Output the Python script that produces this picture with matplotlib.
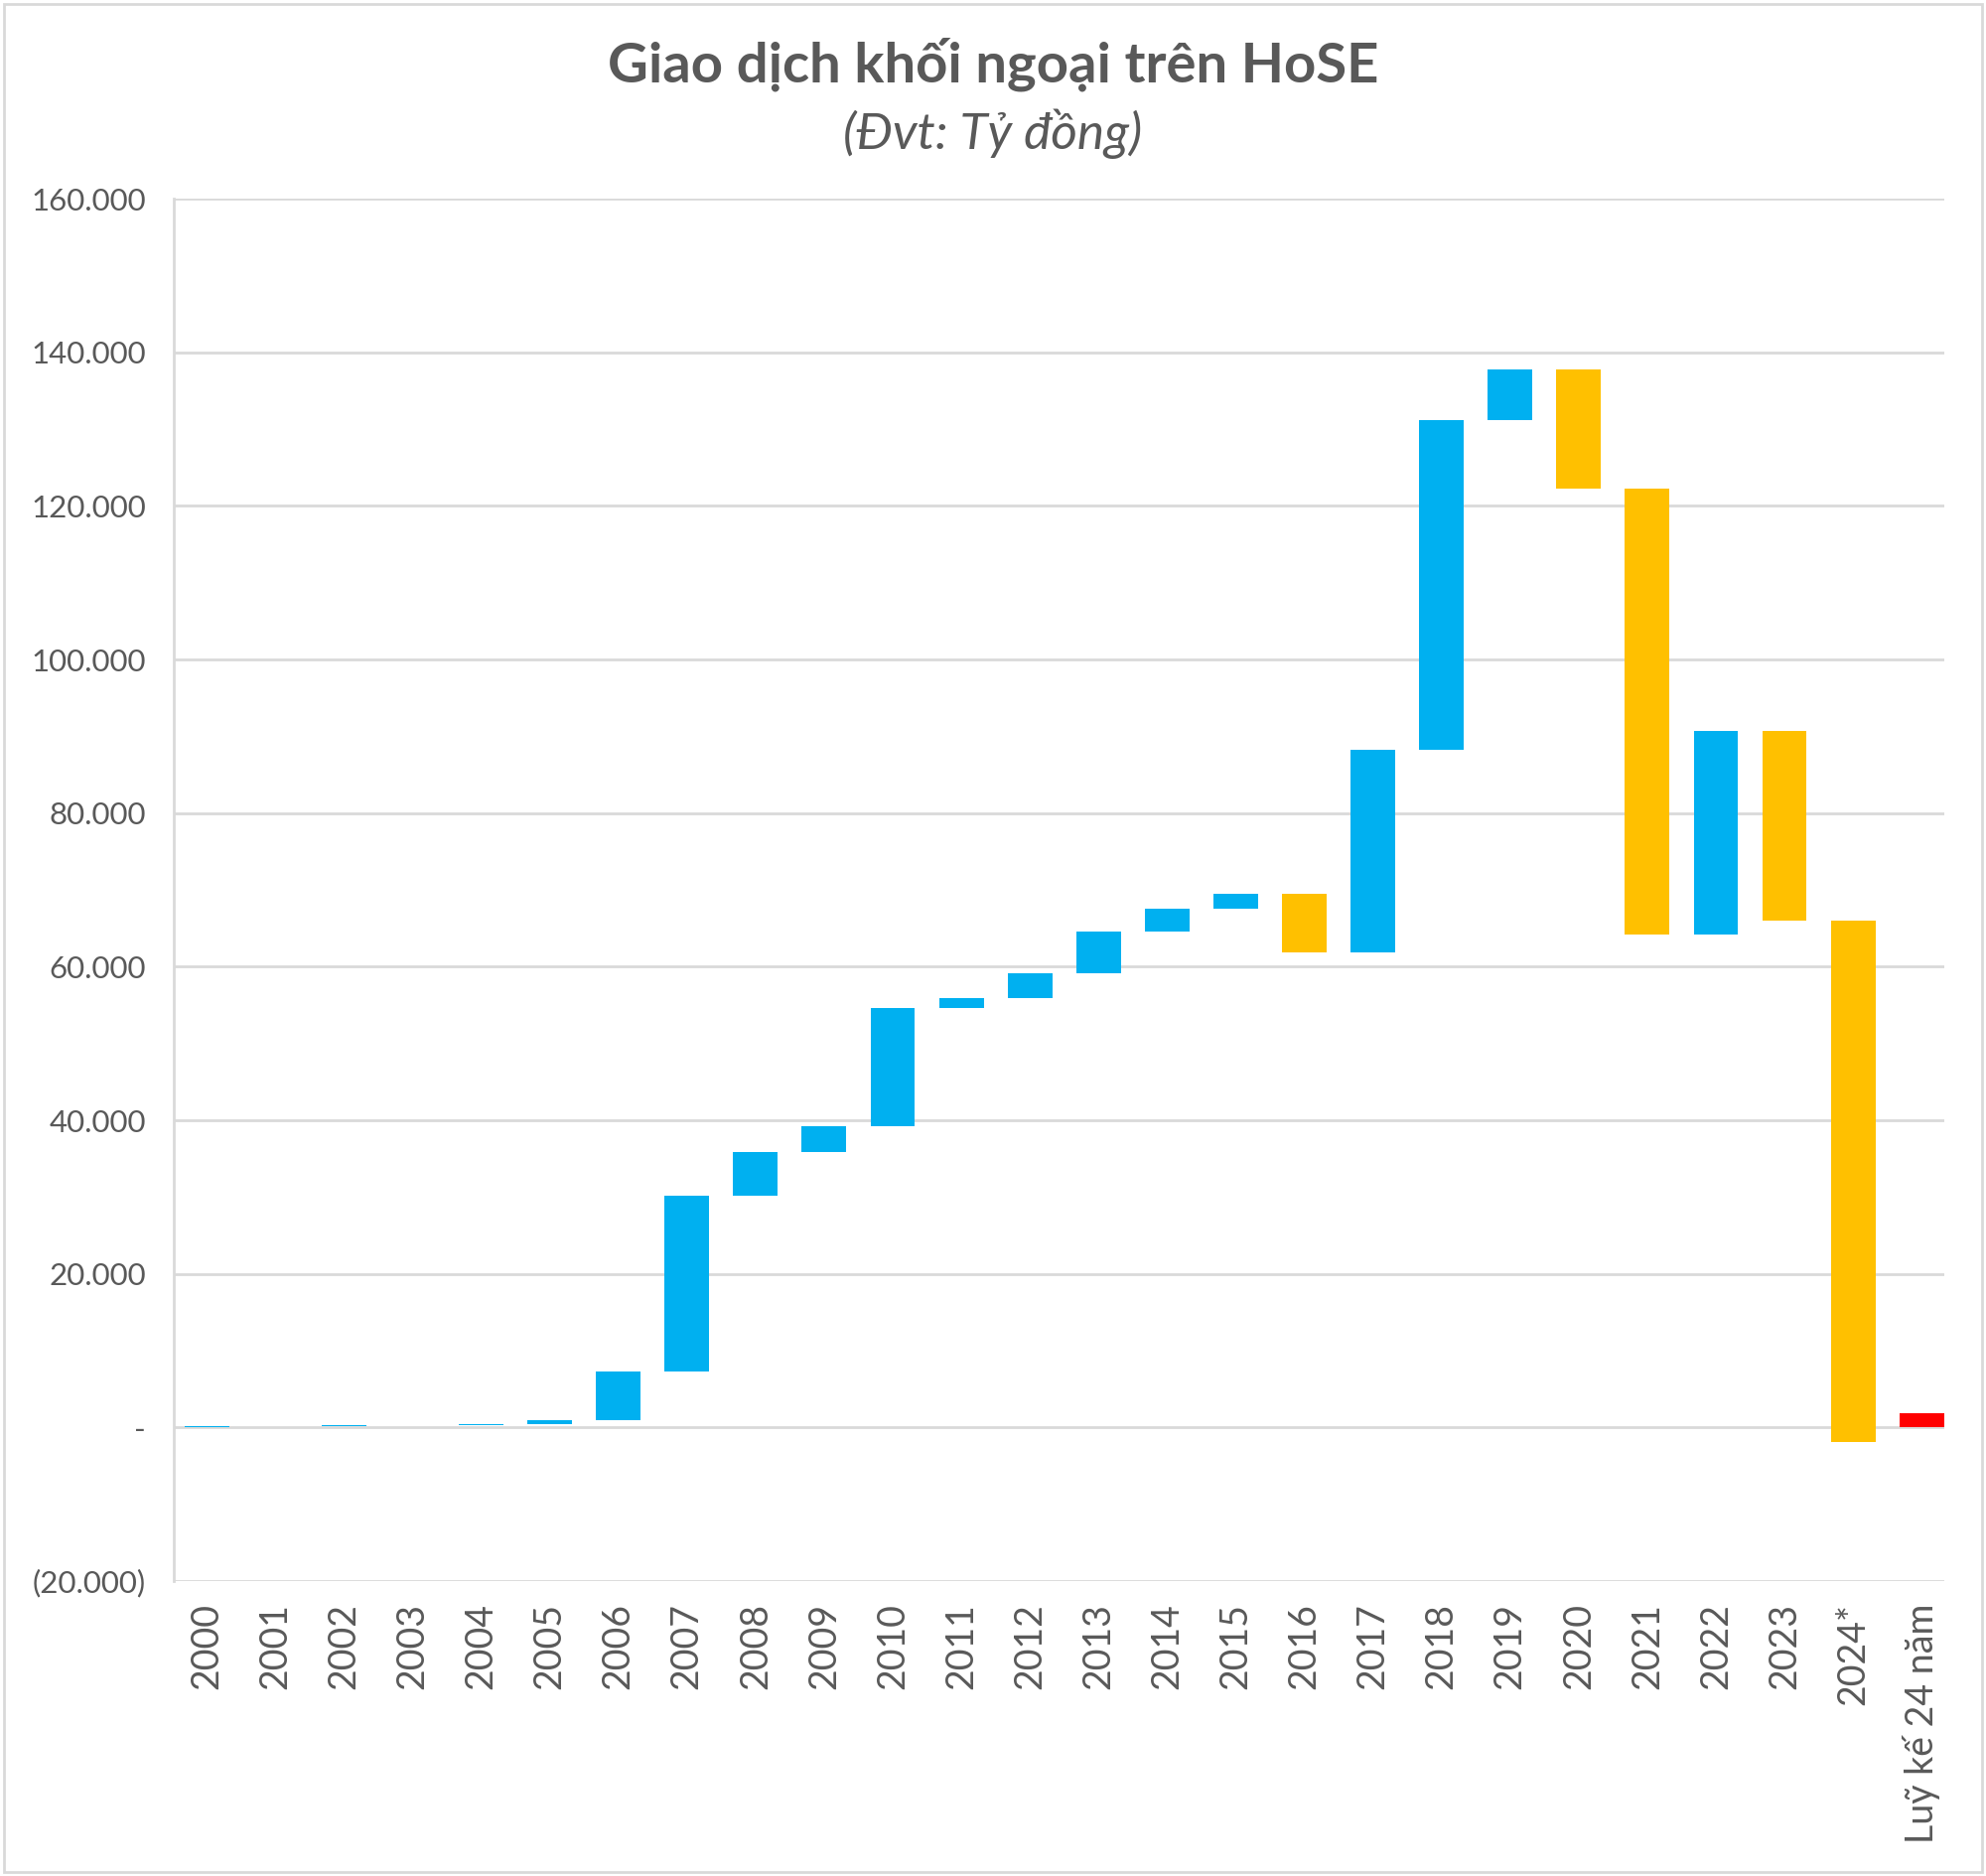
import numpy as np
import matplotlib
matplotlib.use("Agg")
from matplotlib import pyplot as plt
from matplotlib.patches import Rectangle
from matplotlib.ticker import FuncFormatter

plt.rcParams['font.family'] = ['Lato', 'Noto Sans', 'DejaVu Sans']

# yearly net flow (ty dong), waterfall steps
years = ["2000", "2001", "2002", "2003", "2004", "2005", "2006", "2007", "2008",
         "2009", "2010", "2011", "2012", "2013", "2014", "2015", "2016", "2017",
         "2018", "2019", "2020", "2021", "2022", "2023", "2024*"]
delta = [200, 0, 50, 50, 200, 400, 6400, 22850, 5750,
         3350, 15350, 1300, 3300, 5400, 3000, 1900, -7600, 26300,
         43000, 6600, -15600, -58000, 26450, -24650, -67900]
total_label = "Luỹ kế 24 năm"
total_value = 1900

blue = "#00B0F0"
yellow = "#FFC000"
red = "#FF0000"
grey = "#595959"

fig = plt.figure(figsize=(20, 18.89), dpi=100, facecolor="w")
ax = fig.add_axes([0.0875, 0.1572, 0.8915, 0.7369])

ends = np.cumsum(delta)
starts = ends - np.array(delta)
x = np.arange(len(years))
cols = [blue if d >= 0 else yellow for d in delta]
ax.bar(x, np.array(delta), bottom=starts, width=0.65, color=cols, zorder=3)
ax.bar(len(years), total_value, width=0.65, color=red, zorder=3)

ax.set_xlim(-0.48, len(years) + 0.33)
ax.set_ylim(-20000, 160000)
ax.set_yticks(np.arange(-20000, 160001, 20000))

def acct(v, pos):
    if v == 0:
        return "-"
    s = "{:,.0f}".format(abs(v)).replace(",", ".")
    return "(" + s + ")" if v < 0 else s

ax.yaxis.set_major_formatter(FuncFormatter(acct))
ax.set_xticks(np.arange(len(years) + 1))
ax.set_xticklabels(years + [total_label], rotation=90)
ax.tick_params(axis="y", length=0, pad=20, labelsize=22.5, labelcolor=grey)
ax.tick_params(axis="x", length=0, pad=16, labelsize=27, labelcolor=grey)
ax.grid(axis="y", color="#D9D9D9", linewidth=2, zorder=0)
for s in ["top", "right", "bottom"]:
    ax.spines[s].set_visible(False)
ax.spines["left"].set_color("#D9D9D9")
ax.spines["left"].set_linewidth(2)

fig.text(0.5, 0.98, "Giao dịch khối ngoại trên HoSE", ha="center", va="top",
         fontsize=40.5, fontweight="bold", color=grey)
fig.text(0.5, 0.942, "(Đvt: Tỷ đồng)", ha="center", va="top",
         fontsize=37, style="italic", color=grey)

fig.patches.append(Rectangle((0.002, 0.002), 0.996, 0.996, transform=fig.transFigure,
                             fill=False, edgecolor="#D9D9D9", linewidth=2))

plt.savefig("out.png", dpi=100)
